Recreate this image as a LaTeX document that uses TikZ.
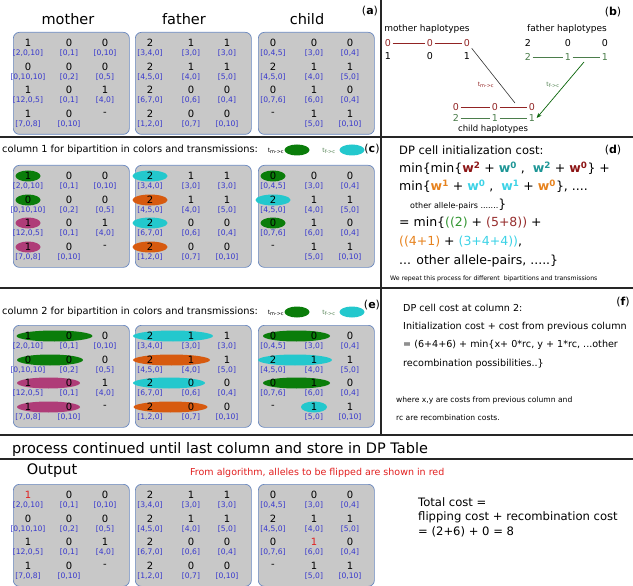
\documentclass[tikz,border=0pt]{standalone}
\usepackage{fontspec}
\setmainfont{DejaVu Sans}
\usepackage{xcolor}
\usetikzlibrary{shapes.geometric,arrows.meta,positioning,calc}

\definecolor{cellgray}{RGB}{200,200,200}
\definecolor{frameblue}{RGB}{105,135,190}
\definecolor{countblue}{RGB}{55,55,205}
\definecolor{tmgreen}{RGB}{10,125,10}
\definecolor{tfcyan}{RGB}{35,200,205}
\definecolor{mixmagenta}{RGB}{175,60,120}
\definecolor{mixorange}{RGB}{215,90,15}
\definecolor{hapred}{RGB}{145,35,35}
\definecolor{hapgreen}{RGB}{75,125,75}
\definecolor{flipred}{RGB}{225,30,30}
\definecolor{wdark}{RGB}{140,20,20}
\definecolor{wteal}{RGB}{30,150,150}
\definecolor{worange}{RGB}{230,130,30}
\definecolor{wcyan}{RGB}{60,210,230}
\definecolor{wgreen}{RGB}{50,150,50}
\definecolor{wbrown}{RGB}{150,45,45}

\pgfdeclarelayer{frames}
\pgfdeclarelayer{marks}
\pgfsetlayers{frames,marks,main}

\newcommand{\fsz}[1]{\fontsize{#1}{#1}\selectfont}

% cells: allele / counts, row by row
\newcommand{\mothercells}{1/{[2,0,10]},0/{[0,1]},0/{[0,10]},0/{[0,10,10]},0/{[0,2]},0/{[0,5]},1/{[12,0,5]},0/{[0,1]},1/{[4,0]},1/{[7,0,8]},0/{[0,10]},-/{}}
\newcommand{\mothercellsout}{{\textcolor{flipred}{1}}/{[2,0,10]},0/{[0,1]},0/{[0,10]},0/{[0,10,10]},0/{[0,2]},0/{[0,5]},1/{[12,0,5]},0/{[0,1]},1/{[4,0]},1/{[7,0,8]},0/{[0,10]},-/{}}
\newcommand{\fathercells}{2/{[3,4,0]},1/{[3,0]},1/{[3,0]},2/{[4,5,0]},1/{[4,0]},1/{[5,0]},2/{[6,7,0]},0/{[0,6]},0/{[0,4]},2/{[1,2,0]},0/{[0,7]},0/{[0,10]}}
\newcommand{\childcells}{0/{[0,4,5]},0/{[3,0]},0/{[0,4]},2/{[4,5,0]},1/{[4,0]},1/{[5,0]},0/{[0,7,6]},1/{[6,0]},0/{[0,4]},-/{},1/{[5,0]},1/{[0,10]}}
\newcommand{\childcellsout}{0/{[0,4,5]},0/{[3,0]},0/{[0,4]},2/{[4,5,0]},1/{[4,0]},1/{[5,0]},0/{[0,7,6]},{\textcolor{flipred}{1}}/{[6,0]},0/{[0,4]},-/{},1/{[5,0]},1/{[0,10]}}

% one gray table: name, left, top, cells
\newcommand{\famtable}[4]{%
  \begin{pgfonlayer}{frames}
    \node[famframe, anchor=north west] (#1) at (#2,#3) {};
  \end{pgfonlayer}
  \foreach \fnum/\fcnt [count=\k from 0] in #4 {
    \pgfmathtruncatemacro{\fcol}{mod(\k,3)}
    \pgfmathtruncatemacro{\frow}{div(\k,3)}
    \pgfmathsetmacro{\fdx}{{15,56,92}[\fcol]}
    \pgfmathsetmacro{\fdy}{{11,35,58,82}[\frow]}
    \node[allelenum] (#1-\frow\fcol) at ($(#1.north west)+(\fdx,\fdy)$) {\fnum};
    \node[cntlabel] (#1-c\frow\fcol) at ($(#1-\frow\fcol)+(0,10)$) {\fcnt};
  }
}

\begin{document}
\begin{tikzpicture}[
  x=1pt, y=-1pt,
  famframe/.style={draw=frameblue, fill=cellgray, rounded corners=6pt, line width=0.7pt,
                   minimum width=116pt, minimum height=102pt, inner sep=0pt},
  allelenum/.style={font=\fsz{10}, inner sep=0.5pt},
  cntlabel/.style={font=\fsz{7.6}, text=countblue, inner sep=0pt},
  blob/.style={ellipse, inner sep=0pt, minimum height=11pt, minimum width=#1},
  blob/.default=25pt,
  paneltitle/.style={font=\fsz{14.5}},
  tag/.style={font=\fsz{11}},
  textline/.style={anchor=west, inner sep=0pt},
  hapnum/.style={font=\fsz{9.5}, inner sep=1.5pt},
  tlabel/.style={font=\fsz{6}},
  rule/.style={line width=1.3pt, black!85}
]
  \useasboundingbox (0,0) rectangle (633,586);

  % panel borders
  \draw[rule] (0,137) -- (633,137);
  \draw[rule] (0,288) -- (633,288);
  \draw[rule] (0,435) -- (633,435);
  \draw[rule] (0,459) -- (633,459);
  \draw[rule] (381,0) -- (381,435);

  % (a) input tables
  \node[paneltitle] (amotitle) at (68,19) {mother};
  \node[paneltitle] (afatitle) at (184,19) {father};
  \node[paneltitle] (achtitle) at (307,19) {child};
  \node[tag] (atag) at (370,11) {(\textbf{a})};
  \famtable{amo}{13}{32}{\mothercells}
  \famtable{afa}{135}{32}{\fathercells}
  \famtable{ach}{258}{32}{\childcells}

  % (b) haplotypes
  \node[tag] (btag) at (613,12) {(\textbf{b})};
  \node[font=\fsz{9}] (mhap) at (427,29) {mother haplotypes};
  \node[font=\fsz{9}] (fhap) at (567,29) {father haplotypes};
  \node[hapnum, text=hapred] (mh11) at (388,43) {0};
  \node[hapnum, text=hapred] (mh12) at (430,43) {0};
  \node[hapnum, text=hapred] (mh13) at (467,43) {0};
  \node[hapnum] (mh21) at (388,56) {1};
  \node[hapnum] (mh22) at (430,56) {0};
  \node[hapnum] (mh23) at (467,56) {1};
  \node[hapnum] (fh11) at (528,43) {2};
  \node[hapnum] (fh12) at (568,43) {0};
  \node[hapnum] (fh13) at (605,43) {0};
  \node[hapnum, text=hapgreen] (fh21) at (528,57) {2};
  \node[hapnum, text=hapgreen] (fh22) at (568,57) {1};
  \node[hapnum, text=hapgreen] (fh23) at (605,57) {1};
  \node[hapnum, text=hapred] (ch11) at (456,107) {0};
  \node[hapnum, text=hapred] (ch12) at (495,107) {0};
  \node[hapnum, text=hapred] (ch13) at (532,107) {0};
  \node[hapnum, text=hapgreen] (ch21) at (456,118) {2};
  \node[hapnum, text=hapgreen] (ch22) at (495,118) {1};
  \node[hapnum, text=hapgreen] (ch23) at (532,118) {1};
  \node[font=\fsz{8.5}] (chap) at (493,129) {child haplotypes};
  \draw[hapred, line width=0.6pt] (mh11) -- (mh12) -- (mh13);
  \draw[hapgreen, line width=0.6pt] (fh21) -- (fh22) -- (fh23);
  \draw[hapred, line width=0.6pt] (ch11) -- (ch12) -- (ch13);
  \draw[hapgreen, line width=0.6pt] (ch21) -- (ch22) -- (ch23);
  \coordinate (mtarget) at (515,103);
  \coordinate (fsource) at (584,62);
  \draw[black!80, line width=0.6pt] (mh13.south east) -- (mtarget);
  \draw[tmgreen!80!black, line width=0.7pt, -{Stealth[length=5pt,width=4pt]}] (fsource) -- (ch23.east);
  \node[tlabel, text=hapred] (tmlab) at (486,85) {t\textsubscript{m->c}};
  \node[tlabel, text=hapgreen] (tflab) at (553,85) {t\textsubscript{f->c}};

  % (c) column 1
  \node[textline, font=\fsz{9.8}] (ctitle) at (2,150) {column 1 for bipartition in colors and transmissions:};
  \node[tlabel] (ctm) at (276,151) {t\textsubscript{m->c}};
  \node[blob, fill=tmgreen] (ctmkey) at (297,150) {};
  \node[tlabel, text=hapgreen] (ctf) at (329,151) {t\textsubscript{f->c}};
  \node[blob, fill=tfcyan] (ctfkey) at (352,150) {};
  \node[tag] (ctag) at (372,149) {(\textbf{c})};
  \famtable{cmo}{13}{165}{\mothercells}
  \famtable{cfa}{135}{165}{\fathercells}
  \famtable{cch}{258}{165}{\childcells}
  \begin{pgfonlayer}{marks}
    \node[blob, fill=tmgreen] (cmo-m0) at (cmo-00) {};
    \node[blob, fill=tmgreen] (cmo-m1) at (cmo-10) {};
    \node[blob, fill=mixmagenta] (cmo-m2) at (cmo-20) {};
    \node[blob, fill=mixmagenta] (cmo-m3) at (cmo-30) {};
    \node[blob=35pt, fill=tfcyan] (cfa-m0) at (cfa-00) {};
    \node[blob=35pt, fill=mixorange] (cfa-m1) at (cfa-10) {};
    \node[blob=35pt, fill=tfcyan] (cfa-m2) at (cfa-20) {};
    \node[blob=35pt, fill=mixorange] (cfa-m3) at (cfa-30) {};
    \node[blob, fill=tmgreen] (cch-m0) at (cch-00) {};
    \node[blob=35pt, fill=tfcyan] (cch-m1) at (cch-10) {};
    \node[blob, fill=tmgreen] (cch-m2) at (cch-20) {};
  \end{pgfonlayer}

  % (d) initialization cost
  \node[tag] (dtag) at (613,150) {(\textbf{d})};
  \node[textline, font=\fsz{11.5}] (d1) at (399,150) {DP cell initialization cost:};
  \node[textline, font=\fsz{12.5}] (d2) at (399,168) {min\{min\{\textcolor{wdark}{\textbf{w\textsuperscript{2}}} + \textcolor{wteal}{\textbf{w\textsuperscript{0}}} ,\ \ \textcolor{wteal}{\textbf{w\textsuperscript{2}}} + \textcolor{wdark}{\textbf{w\textsuperscript{0}}}\} +};
  \node[textline, font=\fsz{12.5}] (d3) at (399,186) {min\{\textcolor{worange}{\textbf{w\textsuperscript{1}}} + \textcolor{wcyan}{\textbf{w\textsuperscript{0}}} ,\ \ \textcolor{wcyan}{\textbf{w\textsuperscript{1}}} + \textcolor{worange}{\textbf{w\textsuperscript{0}}}\}, ....};
  \node[textline, font=\fsz{12.5}] (d4) at (410,205) {{\fsz{8}other allele-pairs .......}\}};
  \node[textline, font=\fsz{12.5}] (d5) at (399,223) {= min\{\textcolor{wgreen}{((2)} + \textcolor{wbrown}{(5+8))} +};
  \node[textline, font=\fsz{12.5}] (d6) at (399,242) {\textcolor{worange}{((4+1)} + \textcolor{wcyan}{(3+4+4))},};
  \node[textline, font=\fsz{12.5}] (d7) at (399,261) {... other allele-pairs, .....\}};
  \node[textline, font=\fsz{6.2}] (d8) at (390,279) {We repeat this process for different\ \ bipartitions and transmissions};

  % (e) column 2
  \node[textline, font=\fsz{9.8}] (etitle) at (2,312) {column 2 for bipartition in colors and transmissions:};
  \node[tlabel] (etm) at (276,313) {t\textsubscript{m->c}};
  \node[blob, fill=tmgreen] (etmkey) at (297,312) {};
  \node[tlabel, text=hapgreen] (etf) at (329,313) {t\textsubscript{f->c}};
  \node[blob, fill=tfcyan] (etfkey) at (352,312) {};
  \node[tag] (etag) at (372,305) {(\textbf{e})};
  \famtable{emo}{13}{325}{\mothercells}
  \famtable{efa}{135}{325}{\fathercells}
  \famtable{ech}{258}{325}{\childcells}
  \begin{pgfonlayer}{marks}
    \node[blob=76pt, fill=tmgreen, xshift=6pt] (emo-m0) at ($(emo-00)!0.5!(emo-01)$) {};
    \node[blob=66pt, fill=tmgreen, xshift=1.5pt] (emo-m1) at ($(emo-10)!0.5!(emo-11)$) {};
    \node[blob=63pt, fill=mixmagenta] (emo-m2) at ($(emo-20)!0.5!(emo-21)$) {};
    \node[blob=63pt, fill=mixmagenta] (emo-m3) at ($(emo-30)!0.5!(emo-31)$) {};
    \node[blob=80pt, fill=tfcyan, xshift=2.5pt] (efa-m0) at ($(efa-00)!0.5!(efa-01)$) {};
    \node[blob=77pt, fill=mixorange, xshift=1pt] (efa-m1) at ($(efa-10)!0.5!(efa-11)$) {};
    \node[blob=72pt, fill=tfcyan, xshift=-1.5pt] (efa-m2) at ($(efa-20)!0.5!(efa-21)$) {};
    \node[blob=74pt, fill=mixorange] (efa-m3) at ($(efa-30)!0.5!(efa-31)$) {};
    \node[blob=67pt, fill=tmgreen, xshift=3pt] (ech-m0) at ($(ech-00)!0.5!(ech-01)$) {};
    \node[blob=74pt, fill=tfcyan, xshift=1.5pt] (ech-m1) at ($(ech-10)!0.5!(ech-11)$) {};
    \node[blob=67pt, fill=tmgreen, xshift=3pt] (ech-m2) at ($(ech-20)!0.5!(ech-21)$) {};
    \node[blob=26pt, fill=tfcyan] (ech-m3) at (ech-31) {};
  \end{pgfonlayer}

  % (f) cost at column 2
  \node[tag] (ftag) at (623,302) {(\textbf{f})};
  \node[textline, font=\fsz{9.6}] (f1) at (403,308) {DP cell cost at column 2:};
  \node[textline, font=\fsz{9.6}] (f2) at (403,327) {Initialization cost + cost from previous column};
  \node[textline, font=\fsz{9.6}] (f3) at (403,345) {= (6+4+6) + min\{x+ 0*rc, y + 1*rc, ...other};
  \node[textline, font=\fsz{9.6}] (f4) at (403,364) {recombination possibilities..\}};
  \node[textline, font=\fsz{7.6}] (f5) at (396,400) {where x,y are costs from previous column and};
  \node[textline, font=\fsz{7.6}] (f6) at (396,418) {rc are recombination costs.};

  % DP table and output
  \node[textline, font=\fsz{14.5}] (process) at (12,449) {process continued until last column and store in DP Table};
  \node[paneltitle] (outtitle) at (52,471) {Output};
  \node[textline, font=\fsz{9.5}, text=flipred] (flipnote) at (190,473) {From algorithm, alleles to be flipped are shown in red};
  \famtable{omo}{13}{484}{\mothercellsout}
  \famtable{ofa}{135}{484}{\fathercells}
  \famtable{och}{258}{484}{\childcellsout}
  \node[textline, font=\fsz{11.6}] (t1) at (418,502) {Total cost =};
  \node[textline, font=\fsz{11.6}] (t2) at (418,517) {flipping cost + recombination cost};
  \node[textline, font=\fsz{11.6}] (t3) at (418,532) {= (2+6) + 0 = 8};
\end{tikzpicture}
\end{document}
